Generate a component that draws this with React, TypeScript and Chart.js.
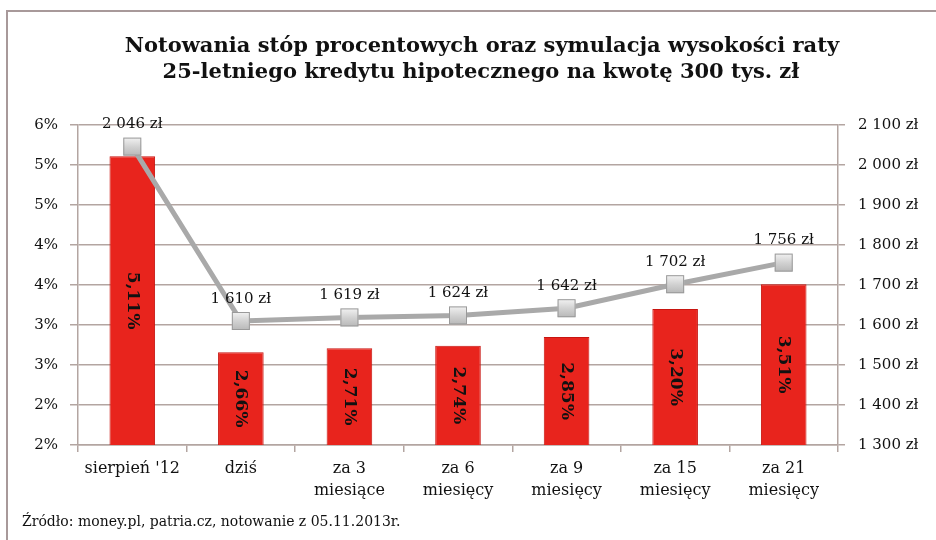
import React, { useEffect, useRef } from "react";
import { Chart, registerables } from "chart.js";

Chart.register(...registerables);

const titleLines = [
  "Notowania stóp procentowych oraz symulacja wysokości raty",
  "25-letniego kredytu hipotecznego na kwotę 300 tys. zł",
];
const sourceText = "Źródło: money.pl, patria.cz, notowanie z 05.11.2013r.";
const categories = [
  ["sierpień '12"],
  ["dziś"],
  ["za 3", "miesiące"],
  ["za 6", "miesięcy"],
  ["za 9", "miesięcy"],
  ["za 15", "miesięcy"],
  ["za 21", "miesięcy"],
];
const ratePercent = [5.11, 2.66, 2.71, 2.74, 2.85, 3.2, 3.51];
const installmentPln = [2046, 1610, 1619, 1624, 1642, 1702, 1756];
const leftAxisMin = 1.5;
const leftAxisMax = 5.5;
const leftAxisStep = 0.5;
const rightAxisMin = 1300;
const rightAxisMax = 2100;
const rightAxisStep = 100;

const FONT = "'DejaVu Serif', Georgia, serif";
const GRID = "#b3a5a1";

const fmtPln = (n: number) =>
  String(Math.round(n)).replace(/\B(?=(\d{3})+(?!\d))/g, " ") + " zł";
const fmtRate = (v: number) => v.toFixed(2).replace(".", ",") + "%";

export default function App() {
  const ref = useRef<HTMLCanvasElement | null>(null);

  useEffect(() => {
    document.body.style.margin = "0";
    const canvas = ref.current!;

    const framePlugin = {
      id: "frame",
      beforeDraw(chart: any) {
        const ctx = chart.ctx;
        ctx.save();
        ctx.fillStyle = "#ffffff";
        ctx.fillRect(0, 0, chart.width, chart.height);
        ctx.strokeStyle = "#a8999a";
        ctx.lineWidth = 2;
        ctx.beginPath();
        ctx.moveTo(7, chart.height);
        ctx.lineTo(7, 11);
        ctx.lineTo(chart.width, 11);
        ctx.stroke();
        ctx.fillStyle = "#111";
        ctx.textAlign = "center";
        ctx.textBaseline = "middle";
        ctx.font = `bold 21px ${FONT}`;
        ctx.fillText(titleLines[0], 482, 47);
        ctx.fillText(titleLines[1], 481, 73);
        ctx.textAlign = "left";
        ctx.font = `14px ${FONT}`;
        ctx.fillText(sourceText, 22, 522);
        ctx.restore();
      },
      afterDatasetsDraw(chart: any) {
        const ctx = chart.ctx;
        ctx.save();
        const bottom = chart.scales.y.getPixelForValue(leftAxisMin);
        // bar labels
        const barMeta = chart.getDatasetMeta(1);
        ctx.font = `bold 17px ${FONT}`;
        ctx.fillStyle = "#111";
        ctx.textAlign = "center";
        ctx.textBaseline = "middle";
        barMeta.data.forEach((bar: any, i: number) => {
          const cy = (bar.y + bottom) / 2;
          ctx.save();
          ctx.translate(bar.x, cy);
          ctx.rotate(Math.PI / 2);
          ctx.fillText(fmtRate(ratePercent[i]), 0, 0);
          ctx.restore();
        });
        // line markers
        const lineMeta = chart.getDatasetMeta(0);
        const s = 18;
        lineMeta.data.forEach((pt: any) => {
          const g = ctx.createLinearGradient(pt.x, pt.y - s / 2, pt.x, pt.y + s / 2);
          g.addColorStop(0, "#f2f2f2");
          g.addColorStop(0.5, "#d2d2d2");
          g.addColorStop(1, "#b8b8b8");
          ctx.fillStyle = g;
          ctx.fillRect(pt.x - s / 2, pt.y - s / 2, s, s);
          ctx.strokeStyle = "#9a9a9a";
          ctx.lineWidth = 1;
          ctx.strokeRect(pt.x - s / 2 + 0.5, pt.y - s / 2 + 0.5, s - 1, s - 1);
        });
        ctx.font = `15px ${FONT}`;
        ctx.fillStyle = "#111";
        lineMeta.data.forEach((pt: any, i: number) => {
          ctx.fillText(fmtPln(installmentPln[i]), pt.x, pt.y - 22);
        });
        ctx.restore();
      },
    };

    const chart = new Chart(canvas, {
      type: "bar",
      data: {
        labels: categories,
        datasets: [
          {
            type: "line",
            data: installmentPln,
            yAxisID: "y2",
            borderColor: "#a9a9a9",
            borderWidth: 5,
            pointRadius: 0,
            tension: 0,
            order: 0,
          } as any,
          {
            type: "bar",
            data: ratePercent,
            yAxisID: "y",
            backgroundColor: "#e8241d",
            borderColor: "#c81510",
            borderWidth: 1,
            barPercentage: 0.42,
            categoryPercentage: 1,
            order: 1,
          },
        ],
      },
      options: {
        responsive: false,
        animation: false,
        devicePixelRatio: 1,
        layout: { padding: { top: 125, left: 0, right: 0, bottom: 0 } },
        plugins: {
          legend: { display: false },
          title: { display: false },
          tooltip: { enabled: false },
        },
        scales: {
          x: {
            offset: true,
            grid: {
              display: true,
              offset: true,
              drawOnChartArea: false,
              drawTicks: true,
              tickLength: 7,
              color: GRID,
              lineWidth: 1.5,
            },
            border: { display: true, color: GRID, width: 1.5 },
            ticks: {
              color: "#111",
              font: { family: FONT, size: 16, lineHeight: 1.35 },
              padding: 6,
              maxRotation: 0,
              autoSkip: false,
            },
            afterFit(scale: any) {
              scale.height = 95;
            },
          },
          y: {
            position: "left",
            min: leftAxisMin,
            max: leftAxisMax,
            grid: { color: GRID, lineWidth: 1.5, tickLength: 8 },
            border: { display: true, color: GRID, width: 1.5 },
            ticks: {
              stepSize: leftAxisStep,
              padding: 12,
              color: "#111",
              font: { family: FONT, size: 15 },
              callback: (v: any) => Math.round(Number(v) + 1e-9) + "%",
            },
            afterFit(scale: any) {
              scale.width = 78;
            },
          },
          y2: {
            position: "right",
            min: rightAxisMin,
            max: rightAxisMax,
            grid: { drawOnChartArea: false, color: GRID, lineWidth: 1.5, tickLength: 7 },
            border: { display: true, color: GRID, width: 1.5 },
            ticks: {
              stepSize: rightAxisStep,
              padding: 13,
              color: "#111",
              font: { family: FONT, size: 15 },
              callback: (v: any) => fmtPln(Number(v)),
            },
            afterFit(scale: any) {
              scale.width = 98;
            },
          },
        },
      } as any,
      plugins: [framePlugin],
    });
    return () => chart.destroy();
  }, []);

  return (
    <div style={{ width: 936, height: 540 }}>
      <canvas ref={ref} width={936} height={540} />
    </div>
  );
}
